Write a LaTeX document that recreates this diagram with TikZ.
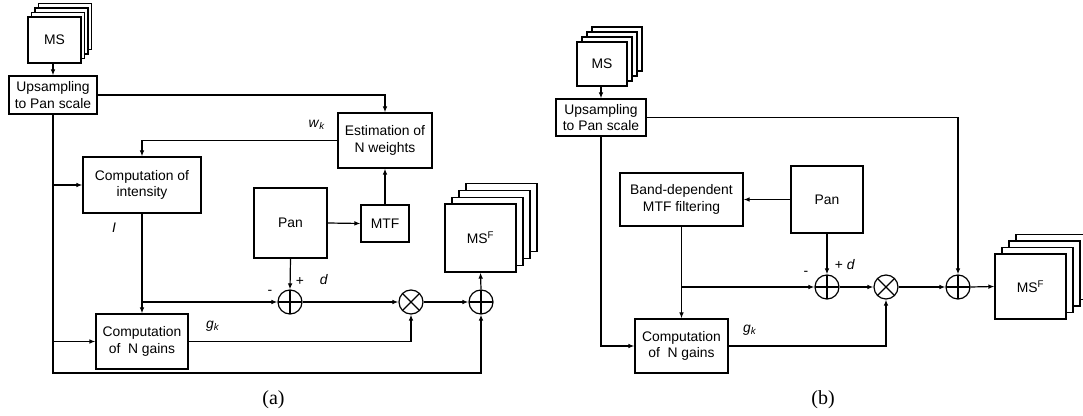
\documentclass[tikz,border=0pt]{standalone}
\usepackage{fontspec}
\setmainfont{Liberation Sans}
\newfontfamily\legende{Liberation Serif}
\usetikzlibrary{arrows.meta}
\begin{document}
\begin{tikzpicture}[x=0.75pt, y=-0.75pt, line width=0.9pt,
		>={Latex[length=4.5pt,width=3.5pt]},
		font=\fontsize{10.4}{12.5}\selectfont,
		boite/.style={draw, fill=white, align=center, inner sep=1pt},
		somme/.style={circle, draw, minimum size=18pt, inner sep=0pt,
			path picture={\draw (path picture bounding box.north) -- (path picture bounding box.south)
				(path picture bounding box.west) -- (path picture bounding box.east);}},
		produit/.style={circle, draw, minimum size=18pt, inner sep=0pt,
			path picture={\draw (path picture bounding box.north west) -- (path picture bounding box.south east)
				(path picture bounding box.south west) -- (path picture bounding box.north east);}}]
	\useasboundingbox (0,0) rectangle (1083,416);
	% Piles d'images (a)
	\foreach \k in {3,2,1}
		\draw [fill=white, shift={(3.5*\k,-4.5*\k)}]	(28,17)		rectangle	(81,63);
	\foreach \k in {3,2,1}
		\draw [fill=white, shift={(7*\k,-6.7*\k)}]		(445,204)	rectangle	(516,272);
	% Boites (a)
	\node [boite, minimum width=39.75pt, minimum height=34.5pt]	(msa)	at (54.5,40)	{MS};
	\node [boite, minimum width=66pt, minimum height=28.5pt]	(upa)	at (53,95)		{Upsampling\\to Pan scale};
	\node [boite, minimum width=70.5pt, minimum height=41.25pt]	(esta)	at (385,140.5)	{Estimation of\\N weights};
	\node [boite, minimum width=88.5pt, minimum height=42pt]	(inta)	at (142,185)	{Computation of\\intensity};
	\node [boite, minimum width=69pt, minimum height=41.25pt]	(gainsa) at (142,341.5)	{Computation\\of\ \ N gains};
	\node [boite, minimum width=54.75pt, minimum height=52.5pt]	(pana)	at (290.5,223)	{Pan};
	\node [boite, minimum width=36pt, minimum height=27.75pt]	(mtfa)	at (385,223.5)	{MTF};
	\node [boite, minimum width=53.25pt, minimum height=51pt]	(msfa)	at (480.5,238)	{MS\textsuperscript{F}};
	\node [somme]	(plusa)		at (290,302)	{};
	\node [produit]	(foisa)		at (411,302)	{};
	\node [somme]	(plusba)	at (481,302)	{};
	\coordinate (coina) at (53,373);
	% Fleches (a)
	\draw [->]	(upa.north |- msa.south)	-- (upa.north);
	\draw [->]	(upa.east)		-| (esta.north);
	\draw [->]	(esta.west)		-| (inta.north);
	\draw [->]	(upa.south)		-- (coina) -| (plusba.south);
	\draw [->]	(upa.south |- inta.west)	-- (inta.west);
	\draw [->]	(upa.south |- gainsa.west)	-- (gainsa.west);
	\draw [->]	(inta.south)	-- (gainsa.north);
	\draw [->]	(inta.south |- plusa.west)	-- (plusa.west);
	\draw [->]	(pana.east)		-- (mtfa.west);
	\draw [->]	(mtfa.north)	-- (esta.south);
	\draw [->]	(pana.south)	-- (plusa.north);
	\draw [->]	(plusa.east)	-- (foisa.west);
	\draw [->]	(foisa.east)	-- (plusba.west);
	\draw [->]	(plusba.north)	-- (msfa.south);
	\draw [->]	(gainsa.east)	-| (foisa.south);
	% Etiquettes (a)
	\node (wka)		at (317,125)	{\textit{w}\textsubscript{\textit{k}}};
	\node (ia)		at (114,228)	{\textit{I}};
	\node (moinsa)	at (270,292)	{-};
	\node (signea)	at (300,282)	{+};
	\node (da)		at (324,280)	{\textit{d}};
	\node (gka)		at (213,326)	{\textit{g}\textsubscript{\textit{k}}};
	\node (titrea)	at (273.5,400)	{\legende\fontsize{15}{17}\selectfont (a)};
	% Piles d'images (b)
	\foreach \k in {3,2,1}
		\draw [fill=white, shift={(5*\k,-5*\k)}]		(577,42)	rectangle	(627,86);
	\foreach \k in {3,2,1}
		\draw [fill=white, shift={(7*\k,-6.5*\k)}]		(995,254)	rectangle	(1066,319);
	% Boites (b)
	\node [boite, minimum width=37.5pt, minimum height=33pt]	(msb)	at (602,64)		{MS};
	\node [boite, minimum width=67.5pt, minimum height=27.75pt]	(upb)	at (601,117.5)	{Upsampling\\to Pan scale};
	\node [boite, minimum width=92.25pt, minimum height=39.75pt] (bandb) at (681.5,199.5) {Band-dependent\\MTF filtering};
	\node [boite, minimum width=54pt, minimum height=50.25pt]	(panb)	at (827,199.5)	{Pan};
	\node [boite, minimum width=69.75pt, minimum height=40.5pt]	(gainsb) at (681.5,346)	{Computation\\of\ \ N gains};
	\node [boite, minimum width=53.25pt, minimum height=48.75pt] (msfb)	at (1030.5,286.5) {MS\textsuperscript{F}};
	\node [somme]	(plusb)		at (827,287)	{};
	\node [produit]	(foisb)		at (886,287)	{};
	\node [somme]	(plusbb)	at (958,287)	{};
	% Fleches (b)
	\draw [->]	(upb.north |- msb.south)	-- (upb.north);
	\draw [->]	(upb.east)		-| (plusbb.north);
	\draw [->]	(upb.south)		|- (gainsb.west);
	\draw [->]	(panb.west)		-- (bandb.east);
	\draw [->]	(bandb.south)	-- (gainsb.north);
	\draw [->]	(bandb.south |- plusb.west)	-- (plusb.west);
	\draw [->]	(panb.south)	-- (plusb.north);
	\draw [->]	(plusb.east)	-- (foisb.west);
	\draw [->]	(foisb.east)	-- (plusbb.west);
	\draw [->]	(plusbb.east)	-- (msfb.west);
	\draw [->]	(gainsb.east)	-| (foisb.south);
	% Etiquettes (b)
	\node (moinsb)	at (806,273)	{-};
	\node (signeb)	at (845,265)	{+ \textit{d}};
	\node (gkb)		at (750,330)	{\textit{g}\textsubscript{\textit{k}}};
	\node (titreb)	at (823,400)	{\legende\fontsize{15}{17}\selectfont (b)};
\end{tikzpicture}
\end{document}
